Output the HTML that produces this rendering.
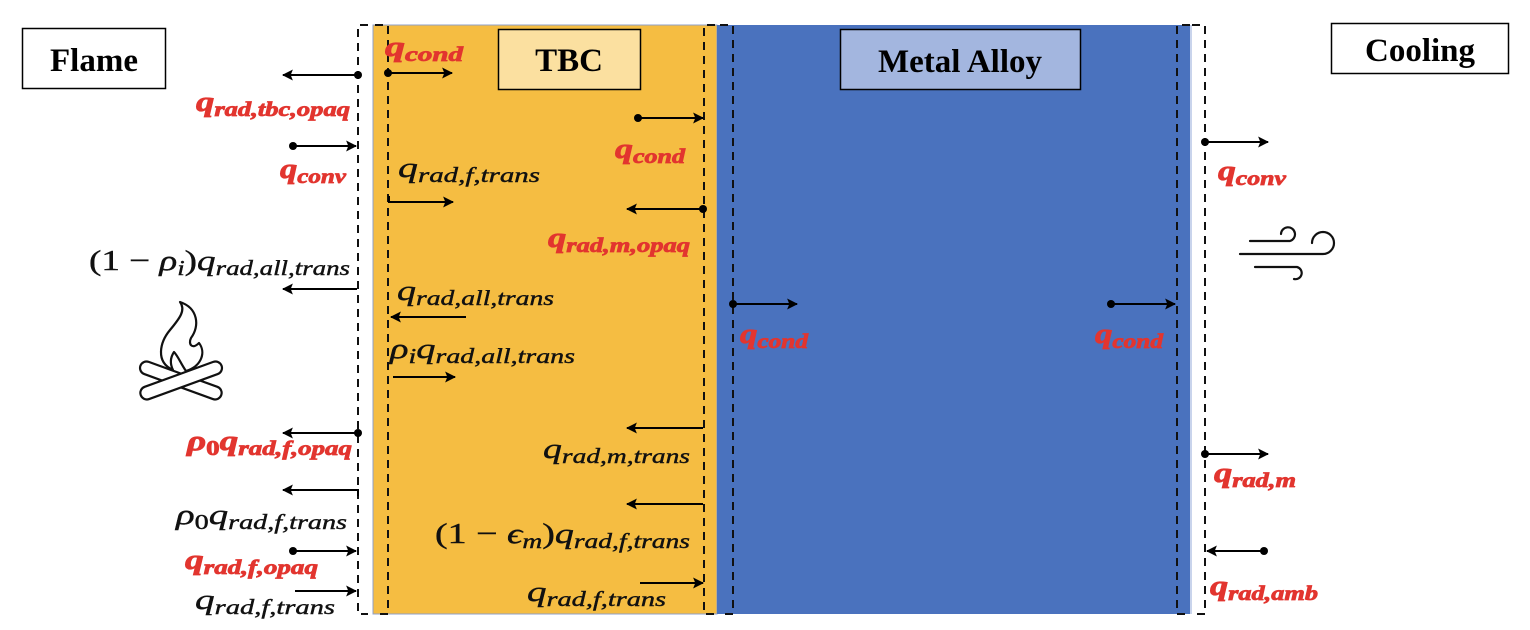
<!DOCTYPE html>
<html><head><meta charset="utf-8"><style>
html,body{margin:0;padding:0;background:#fff;}
svg{display:block;}
.t{font-family:"Liberation Serif","DejaVu Serif",serif;font-style:italic;font-size:29px;fill:#111;stroke:#111;stroke-width:0.4;}
.r{fill:#e2352f;stroke:#e2352f;stroke-width:0.8;font-weight:bold;}
.s{font-size:21px;}
.h{font-family:"Liberation Serif",serif;font-weight:bold;font-size:33px;fill:#000;}
.dl{stroke:#111;stroke-width:2;stroke-dasharray:8,6;fill:none;}
.ar{stroke:#000;stroke-width:2;fill:none;}
</style></head><body>
<svg width="1530" height="630" viewBox="0 0 1530 630" xmlns="http://www.w3.org/2000/svg">
<defs>
<marker id="a" viewBox="0 0 10 10" refX="9" refY="5" markerWidth="5.5" markerHeight="5.5" orient="auto-start-reverse"><path d="M0,0 L10,5 L0,10 L2,5 Z" fill="#000"/></marker>
</defs>
<rect width="1530" height="630" fill="#fff"/>
<rect x="373" y="25" width="344" height="589" fill="#f5bd42" stroke="#8fa0c8" stroke-width="1"/>
<rect x="717" y="25" width="474" height="589" fill="#4a72be"/>
<line x1="1191" y1="25" x2="1191" y2="614" stroke="#c9d4ec" stroke-width="2"/>
<path class="dl" d="M368,25 H358 V614 H368"/>
<path class="dl" d="M375,25 H388 V614 H375"/>
<path class="dl" d="M715,25 H704 V614 H715"/>
<path class="dl" d="M720,25 H733 V614 H720"/>
<path class="dl" d="M1190,25 H1177 V614 H1190"/>
<path class="dl" d="M1192,25 H1205 V614 H1192"/>
<rect x="22.5" y="28.5" width="143" height="60" fill="#fff" stroke="#000" stroke-width="1.5"/>
<text class="h" x="94" y="71" text-anchor="middle">Flame</text>
<rect x="498.5" y="29.5" width="142" height="60" fill="#fbe0a0" stroke="#000" stroke-width="1.5"/>
<text class="h" x="569" y="71" text-anchor="middle">TBC</text>
<rect x="840.5" y="29.5" width="240" height="60" fill="#a3b6df" stroke="#000" stroke-width="1.5"/>
<text class="h" x="960" y="72" text-anchor="middle">Metal Alloy</text>
<rect x="1331.5" y="23.5" width="177" height="50" fill="#fff" stroke="#000" stroke-width="1.5"/>
<text class="h" x="1420" y="61" text-anchor="middle">Cooling</text>
<g class="ar">
<line x1="358" y1="75" x2="283" y2="75" marker-end="url(#a)"/>
<line x1="293" y1="146" x2="356" y2="146" marker-end="url(#a)"/>
<line x1="388" y1="73" x2="452" y2="73" marker-end="url(#a)"/>
<line x1="638" y1="118" x2="703" y2="118" marker-end="url(#a)"/>
<path d="M389,196 V202 H453" marker-end="url(#a)"/>
<line x1="703" y1="209" x2="627" y2="209" marker-end="url(#a)"/>
<line x1="357" y1="289" x2="283" y2="289" marker-end="url(#a)"/>
<line x1="466" y1="317" x2="391" y2="317" marker-end="url(#a)"/>
<line x1="393" y1="377" x2="455" y2="377" marker-end="url(#a)"/>
<line x1="358" y1="433" x2="283" y2="433" marker-end="url(#a)"/>
<line x1="703" y1="428" x2="627" y2="428" marker-end="url(#a)"/>
<path d="M358,496 V490 H283" marker-end="url(#a)"/>
<line x1="703" y1="504" x2="627" y2="504" marker-end="url(#a)"/>
<line x1="293" y1="551" x2="356" y2="551" marker-end="url(#a)"/>
<line x1="295" y1="591" x2="356" y2="591" marker-end="url(#a)"/>
<line x1="640" y1="583" x2="703" y2="583" marker-end="url(#a)"/>
<line x1="733" y1="304" x2="797" y2="304" marker-end="url(#a)"/>
<line x1="1111" y1="304" x2="1175" y2="304" marker-end="url(#a)"/>
<line x1="1205" y1="142" x2="1268" y2="142" marker-end="url(#a)"/>
<line x1="1205" y1="454" x2="1268" y2="454" marker-end="url(#a)"/>
<line x1="1264" y1="551" x2="1207" y2="551" marker-end="url(#a)"/>
</g>
<g fill="#000">
<circle cx="358" cy="75" r="4"/><circle cx="293" cy="146" r="4"/><circle cx="388" cy="73" r="4"/>
<circle cx="638" cy="118" r="4"/><circle cx="703" cy="209" r="4"/><circle cx="358" cy="433" r="4"/>
<circle cx="293" cy="551" r="4"/><circle cx="733" cy="304" r="4"/><circle cx="1111" cy="304" r="4"/>
<circle cx="1205" cy="142" r="4"/><circle cx="1205" cy="454" r="4"/><circle cx="1264" cy="551" r="4"/>
</g>
<text class="t r" x="196" y="111" textLength="154" lengthAdjust="spacingAndGlyphs">q<tspan class="s" dy="5">rad,tbc,opaq</tspan></text>
<text class="t r" x="280" y="178" textLength="66" lengthAdjust="spacingAndGlyphs">q<tspan class="s" dy="5">conv</tspan></text>
<text class="t r" x="385" y="56" textLength="78" lengthAdjust="spacingAndGlyphs">q<tspan class="s" dy="5">cond</tspan></text>
<text class="t r" x="615" y="158" textLength="70" lengthAdjust="spacingAndGlyphs">q<tspan class="s" dy="5">cond</tspan></text>
<text class="t" x="398" y="177" textLength="142" lengthAdjust="spacingAndGlyphs">q<tspan class="s" dy="5">rad,f,trans</tspan></text>
<text class="t r" x="548" y="247" textLength="142" lengthAdjust="spacingAndGlyphs">q<tspan class="s" dy="5">rad,m,opaq</tspan></text>
<text class="t" x="89" y="270" textLength="261" lengthAdjust="spacingAndGlyphs"><tspan font-style="normal">(1 − </tspan>ρ<tspan class="s" dy="5">i</tspan><tspan dy="-5" font-style="normal">)</tspan>q<tspan class="s" dy="5">rad,all,trans</tspan></text>
<text class="t" x="397" y="300" textLength="157" lengthAdjust="spacingAndGlyphs">q<tspan class="s" dy="5">rad,all,trans</tspan></text>
<text class="t" x="390" y="358" textLength="185" lengthAdjust="spacingAndGlyphs">ρ<tspan class="s" dy="5">i</tspan><tspan dy="-5">q</tspan><tspan class="s" dy="5">rad,all,trans</tspan></text>
<text class="t r" x="187" y="450" textLength="165" lengthAdjust="spacingAndGlyphs">ρ<tspan class="s" dy="5" font-style="normal">0</tspan><tspan dy="-5">q</tspan><tspan class="s" dy="5">rad,f,opaq</tspan></text>
<text class="t" x="543" y="458" textLength="147" lengthAdjust="spacingAndGlyphs">q<tspan class="s" dy="5">rad,m,trans</tspan></text>
<text class="t" x="176" y="524" textLength="171" lengthAdjust="spacingAndGlyphs">ρ<tspan class="s" dy="5" font-style="normal">0</tspan><tspan dy="-5">q</tspan><tspan class="s" dy="5">rad,f,trans</tspan></text>
<text class="t" x="435" y="543" textLength="255" lengthAdjust="spacingAndGlyphs"><tspan font-style="normal">(1 − </tspan>ϵ<tspan class="s" dy="5">m</tspan><tspan dy="-5" font-style="normal">)</tspan>q<tspan class="s" dy="5">rad,f,trans</tspan></text>
<text class="t r" x="185" y="569" textLength="133" lengthAdjust="spacingAndGlyphs">q<tspan class="s" dy="5">rad,f,opaq</tspan></text>
<text class="t" x="195" y="609" textLength="140" lengthAdjust="spacingAndGlyphs">q<tspan class="s" dy="5">rad,f,trans</tspan></text>
<text class="t" x="527" y="601" textLength="139" lengthAdjust="spacingAndGlyphs">q<tspan class="s" dy="5">rad,f,trans</tspan></text>
<text class="t r" x="740" y="343" textLength="68" lengthAdjust="spacingAndGlyphs">q<tspan class="s" dy="5">cond</tspan></text>
<text class="t r" x="1095" y="343" textLength="68" lengthAdjust="spacingAndGlyphs">q<tspan class="s" dy="5">cond</tspan></text>
<text class="t r" x="1218" y="180" textLength="68" lengthAdjust="spacingAndGlyphs">q<tspan class="s" dy="5">conv</tspan></text>
<text class="t r" x="1214" y="482" textLength="82" lengthAdjust="spacingAndGlyphs">q<tspan class="s" dy="5">rad,m</tspan></text>
<text class="t r" x="1210" y="595" textLength="108" lengthAdjust="spacingAndGlyphs">q<tspan class="s" dy="5">rad,amb</tspan></text>
<g fill="#fff" stroke="#111" stroke-width="2.2" stroke-linejoin="round">
<rect x="138" y="374" width="86" height="13" rx="6.5" transform="rotate(20 181 380)"/>
<rect x="138" y="374" width="86" height="13" rx="6.5" transform="rotate(-20 181 380)"/>
<path d="M173,370 C155,362 160,342 170,330 C180,318 186,310 180,302 C198,308 200,326 191,338 C188,344 192,350 199,343 C206,352 202,366 186,371 C181,364 178,356 174,352 C170,358 170,364 173,370 Z"/>
</g>
<g fill="none" stroke="#111" stroke-width="2.2" stroke-linecap="round">
<path d="M1250,241 H1290 A7,7 0 1 0 1281,234"/>
<path d="M1240,254 H1323 A11,11 0 1 0 1312,243"/>
<path d="M1255,267 H1297 A6,6 0 1 1 1294,279"/>
</g>
</svg>
</body></html>
